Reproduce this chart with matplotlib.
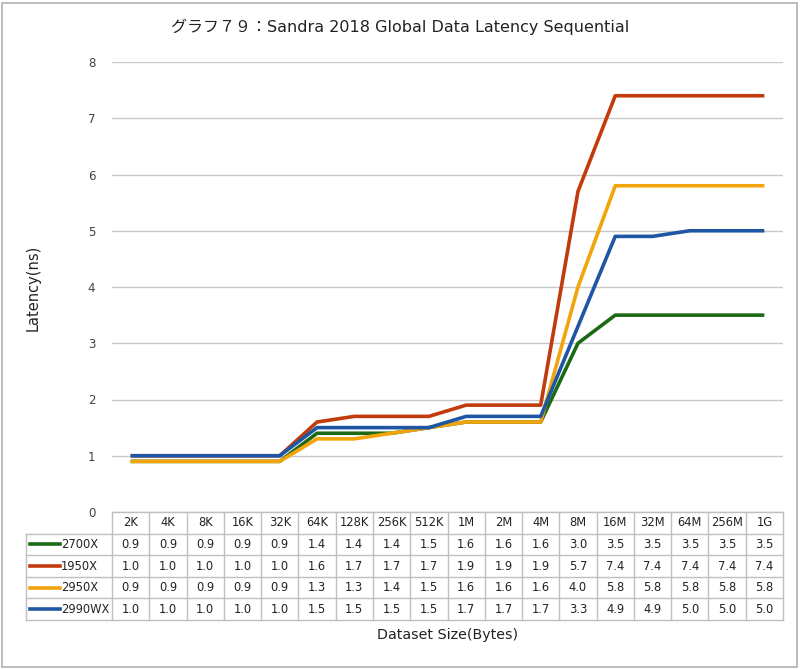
import matplotlib
matplotlib.use('Agg')
import matplotlib.pyplot as plt
from matplotlib.patches import Rectangle

plt.rcParams['font.family'] = ['DejaVu Sans', 'Noto Sans CJK JP']

# data
sizes = ['2K', '4K', '8K', '16K', '32K', '64K', '128K', '256K', '512K',
         '1M', '2M', '4M', '8M', '16M', '32M', '64M', '256M', '1G']
names = ['2700X', '1950X', '2950X', '2990WX']
lat_2700x = [0.9, 0.9, 0.9, 0.9, 0.9, 1.4, 1.4, 1.4, 1.5, 1.6, 1.6, 1.6, 3.0, 3.5, 3.5, 3.5, 3.5, 3.5]
lat_1950x = [1.0, 1.0, 1.0, 1.0, 1.0, 1.6, 1.7, 1.7, 1.7, 1.9, 1.9, 1.9, 5.7, 7.4, 7.4, 7.4, 7.4, 7.4]
lat_2950x = [0.9, 0.9, 0.9, 0.9, 0.9, 1.3, 1.3, 1.4, 1.5, 1.6, 1.6, 1.6, 4.0, 5.8, 5.8, 5.8, 5.8, 5.8]
lat_2990wx = [1.0, 1.0, 1.0, 1.0, 1.0, 1.5, 1.5, 1.5, 1.5, 1.7, 1.7, 1.7, 3.3, 4.9, 4.9, 5.0, 5.0, 5.0]
series = [lat_2700x, lat_1950x, lat_2950x, lat_2990wx]
colors = ['#1d6a16', '#c23b0c', '#f2a40c', '#1f56a3']

W, H = 800, 669
fig = plt.figure(figsize=(8, 6.69), dpi=100)
fig.patches.append(Rectangle((2 / W, 2 / H), 1 - 5 / W, 1 - 5 / H, transform=fig.transFigure,
                             fill=False, edgecolor='#b0b0b0', linewidth=1.2))

# plot area in pixels
left, right, top, bottom = 112, 783, 62, 512
ax = fig.add_axes([left / W, 1 - bottom / H, (right - left) / W, (bottom - top) / H])

x = list(range(len(sizes)))
for vals, col in zip(series, colors):
    ax.plot(x, vals, color=col, linewidth=2.6, solid_capstyle='butt', zorder=3)

ax.set_xlim(-0.5, len(sizes) - 0.5)
ax.set_ylim(0, 8)
ax.set_yticks(range(0, 9))
ax.set_xticks([])
for s in ax.spines.values():
    s.set_visible(False)
ax.grid(axis='y', color='#c8c8c8', linewidth=1)
ax.tick_params(axis='y', length=0, pad=12, labelsize=8.5, labelcolor='#404040')
ax.set_axisbelow(True)

# data table under the chart
trans = ax.get_xaxis_transform()
col_w = (right - left) / len(sizes)
label_x0 = -0.5 - (left - 26) / col_w
row_h = 21.6 / (bottom - top)
n_rows = len(names) + 1
grid_kw = dict(color='#bfbfbf', linewidth=1, transform=trans, clip_on=False)

ax.plot([-0.5, len(sizes) - 0.5], [0, 0], **grid_kw)
for r in range(1, n_rows + 1):
    ax.plot([label_x0, len(sizes) - 0.5], [-r * row_h] * 2, **grid_kw)
for i in range(len(sizes) + 1):
    ax.plot([i - 0.5] * 2, [0, -n_rows * row_h], **grid_kw)
ax.plot([label_x0] * 2, [-row_h, -n_rows * row_h], **grid_kw)

txt_kw = dict(transform=trans, ha='center', va='center', fontsize=8.3, color='#222222',
              clip_on=False)
for i, s in enumerate(sizes):
    ax.text(i, -0.5 * row_h, s, **txt_kw)
for r, (name, vals, col) in enumerate(zip(names, series, colors)):
    yc = -(r + 1.5) * row_h
    for i, v in enumerate(vals):
        ax.text(i, yc, f'{v:.1f}', **txt_kw)
    ax.plot([label_x0 + 0.1, label_x0 + 0.9], [yc, yc], color=col, linewidth=2.6,
            transform=trans, clip_on=False)
    ax.text(label_x0 + 0.93, yc, name, transform=trans, ha='left', va='center',
            fontsize=8.3, color='#222222', clip_on=False)

fig.text((left + right) / 2 / W, 1 - 635 / H, 'Dataset Size(Bytes)', ha='center', va='center',
         fontsize=10.3, color='#222222')
fig.text(33 / W, 1 - 288 / H, 'Latency(ns)', rotation=90, ha='center', va='center',
         fontsize=10.5, color='#222222')
fig.text(400 / W, 1 - 27 / H, 'グラフ７９：Sandra 2018 Global Data Latency Sequential',
         ha='center', va='center', fontsize=11.5, color='#222222')

fig.savefig('out.png', dpi=100)
